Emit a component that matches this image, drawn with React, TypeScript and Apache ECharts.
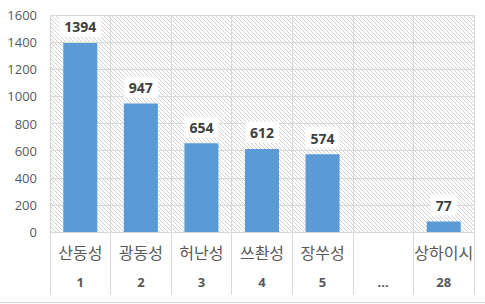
import React, { useEffect, useRef } from "react";
import * as echarts from "echarts";

const provinces = ["산동성", "광동성", "허난성", "쓰촨성", "장쑤성", "", "상하이시"];
const ranks = ["1", "2", "3", "4", "5", "…", "28"];
const values: (number | null)[] = [1394, 947, 654, 612, 574, null, 77];
const yMin = 0;
const yMax = 1600;
const yStep = 200;

function makeHatch(): string {
  const c = document.createElement("canvas");
  c.width = 8;
  c.height = 8;
  const ctx = c.getContext("2d");
  if (ctx) {
    ctx.fillStyle = "#ffffff";
    ctx.fillRect(0, 0, 8, 8);
    ctx.fillStyle = "#d2d2d2";
    for (let i = 0; i < 8; i++) {
      ctx.fillRect(i, i, 1, 1);
      ctx.fillRect((i + 4) % 8, i, 1, 1);
    }
  }
  return c.toDataURL();
}

export default function App() {
  const ref = useRef<HTMLDivElement>(null);
  useEffect(() => {
    if (!ref.current) return;
    const chart = echarts.init(ref.current, undefined, { renderer: "svg" });
    const hatch = makeHatch();
    const cats = provinces.map((p, i) => p + "|" + ranks[i]);
    chart.setOption({
      animation: false,
      backgroundColor: "#ffffff",
      grid: {
        left: 50,
        right: 11,
        top: 15,
        bottom: 72,
        show: true,
        backgroundColor: { image: hatch, repeat: "repeat", imageWidth: 8, imageHeight: 8 },
        borderWidth: 0,
      },
      xAxis: {
        type: "category",
        data: cats,
        axisLine: { show: true, lineStyle: { color: "#d9d9d9", width: 1 } },
        axisTick: { show: true, interval: 0, length: 63, lineStyle: { color: "#d9d9d9" } },
        splitLine: { show: true, interval: 0, lineStyle: { color: "#d9d9d9", width: 1 } },
        axisLabel: {
          interval: 0,
          margin: 8,
          formatter: (v: string) => {
            const [a, b] = v.split("|");
            return "{a|" + (a || " ") + "}\n{b|" + b + "}";
          },
          rich: {
            a: {
              fontFamily: "'Noto Sans CJK KR', sans-serif",
              fontSize: 16,
              lineHeight: 24,
              color: "#595959",
            },
            b: {
              fontFamily: "'Open Sans', sans-serif",
              fontSize: 13,
              fontWeight: "bold",
              lineHeight: 36,
              color: "#595959",
            },
          },
        },
      },
      yAxis: {
        type: "value",
        min: yMin,
        max: yMax,
        interval: yStep,
        axisLine: { show: false },
        axisTick: { show: false },
        splitLine: { show: true, lineStyle: { color: "#d9d9d9", width: 1 } },
        axisLabel: {
          color: "#595959",
          fontSize: 13,
          fontFamily: "'Open Sans', sans-serif",
          margin: 13,
          formatter: (v: number) => String(v),
        },
      },
      series: [
        {
          type: "bar",
          data: values,
          barWidth: 34,
          itemStyle: { color: "#5b9bd5" },
          label: {
            show: true,
            position: "top",
            distance: 6,
            color: "#404040",
            fontWeight: "bold",
            fontSize: 14,
            fontFamily: "'Open Sans', sans-serif",
            backgroundColor: "#ffffff",
            padding: [4, 5, 3, 5],
          },
        },
      ],
      graphic: [
        {
          type: "line",
          shape: { x1: 0, y1: 302.5, x2: 485, y2: 302.5 },
          style: { stroke: "#d9d9d9", lineWidth: 1 },
        },
      ],
    });
    return () => chart.dispose();
  }, []);
  return (
    <div
      ref={ref}
      style={{ position: "fixed", left: 0, top: 0, width: 485, height: 304 }}
    />
  );
}
